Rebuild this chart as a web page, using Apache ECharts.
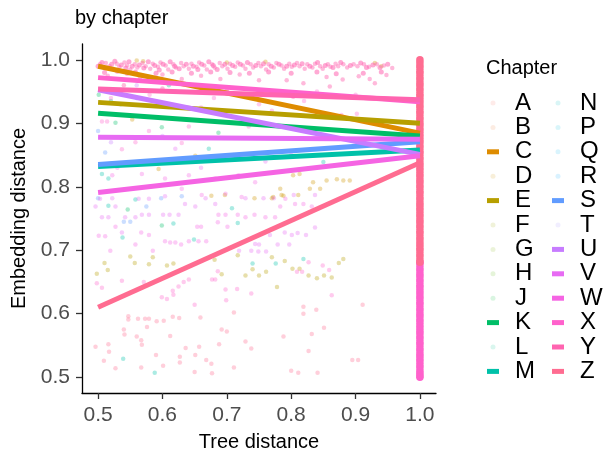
<!DOCTYPE html>
<html>
<head>
<meta charset="utf-8">
<script src="https://cdn.jsdelivr.net/npm/echarts@6/dist/echarts.min.js"></script>
<style>html,body{margin:0;padding:0;background:#fff}#c{width:614px;height:457px}</style>
</head>
<body>
<div id="c"></div>
<script>
// ---------- data ----------
const chapters = ['A','B','C','D','E','F','G','H','J','K','L','M','N','P','Q','R','S','T','U','V','W','X','Y','Z'];
const chapterColors = ['#F8766D','#EC823C','#DE8C00','#CD9600','#B79F00','#9DA700','#7CAE00','#4FB400','#00BA38','#00BE67','#00C08B','#00C1A9','#00BFC4','#00BBDB','#00B4F0','#00A9FF','#619CFF','#A18AFF','#C77CFF','#E76BF3','#F564E3','#FF61CC','#FF64B0','#FF6C91'];
const xTicks = [0.5, 0.6, 0.7, 0.8, 0.9, 1.0];
const yTicks = [0.5, 0.6, 0.7, 0.8, 0.9, 1.0];

// fitted line per chapter: value at tree distance 0.5 and at 1.0
const lineChapters = ['C','E','K','M','S','U','V','W','X','Y','Z'];
const lineStart = [0.990, 0.933, 0.916, 0.832, 0.835, 0.953, 0.878, 0.791, 0.972, 0.954, 0.610];
const lineEnd   = [0.8845, 0.900, 0.880, 0.858, 0.871, 0.851, 0.875, 0.849, 0.934, 0.937, 0.838];

// observed points (tree distance, embedding distance)
const ptsY = [[0.503,0.993],[0.508,0.988],[0.512,0.995],[0.518,0.990],[0.523,0.986],[0.529,0.994],[0.533,0.989],[0.541,0.996],[0.545,0.991],[0.550,0.985],[0.557,0.993],[0.561,0.988],[0.569,0.995],[0.574,0.990],[0.581,0.986],[0.585,0.994],[0.593,0.989],[0.597,0.996],[0.605,0.991],[0.609,0.985],[0.617,0.993],[0.621,0.988],[0.629,0.995],[0.633,0.990],[0.641,0.986],[0.645,0.994],[0.653,0.989],[0.657,0.996],[0.665,0.991],[0.669,0.985],[0.677,0.993],[0.681,0.988],[0.689,0.995],[0.693,0.990],[0.701,0.986],[0.705,0.994],[0.713,0.989],[0.717,0.996],[0.725,0.991],[0.729,0.986],[0.737,0.993],[0.741,0.988],[0.749,0.995],[0.753,0.990],[0.761,0.985],[0.765,0.993],[0.773,0.988],[0.777,0.995],[0.785,0.991],[0.789,0.986],[0.797,0.994],[0.801,0.989],[0.809,0.995],[0.813,0.990],[0.821,0.986],[0.825,0.993],[0.833,0.988],[0.837,0.994],[0.845,0.990],[0.849,0.986],[0.857,0.993],[0.861,0.989],[0.869,0.994],[0.873,0.990],[0.881,0.993],[0.887,0.988],[0.897,0.993],[0.903,0.990],[0.913,0.993],[0.921,0.989],[0.933,0.993],[0.944,0.991],[0.957,0.987],
 [0.515,0.975],[0.545,0.978],[0.565,0.972],[0.600,0.977],[0.630,0.970],[0.660,0.975],[0.690,0.970],[0.720,0.977],[0.750,0.968],[0.793,0.968],[0.819,0.963],[0.855,0.973],[0.880,0.969],[0.905,0.974],[0.922,0.970],[0.930,0.963],[0.948,0.976],[0.803,0.942],[0.860,0.958],[0.600,0.955],[0.700,0.952],[0.540,0.960]];
const ptsYband = [[0.500,0.990],[0.506,0.996],[0.514,0.987],[0.521,0.993],[0.526,0.998],[0.536,0.992],[0.543,0.987],[0.548,0.997],[0.553,0.990],[0.564,0.992],[0.571,0.987],[0.578,0.997],[0.588,0.991],[0.595,0.984],[0.601,0.993],[0.612,0.997],[0.619,0.990],[0.626,0.986],[0.637,0.993],[0.648,0.990],[0.655,0.985],[0.661,0.993],[0.672,0.997],[0.679,0.991],[0.685,0.985],[0.697,0.993],[0.709,0.991],[0.721,0.993],[0.732,0.996],[0.745,0.991],[0.757,0.994],[0.769,0.990],[0.781,0.993],[0.793,0.990],[0.805,0.992],[0.817,0.994],[0.829,0.990],[0.841,0.996],[0.853,0.991],[0.865,0.988],[0.877,0.996],[0.892,0.991],[0.908,0.995],[0.917,0.988],[0.927,0.992],[0.938,0.988],[0.950,0.993],
 [0.510,0.980],[0.530,0.982],[0.558,0.981],[0.590,0.979],[0.615,0.981],[0.645,0.979],[0.675,0.981],[0.705,0.980],[0.735,0.979],[0.765,0.981],[0.800,0.979],[0.840,0.981],[0.870,0.978],[0.912,0.979],[0.940,0.981]];
const ptsX = [[0.506,0.903],[0.514,0.903],[0.579,0.888],[0.630,0.869],[0.641,0.895],[0.708,0.901],[0.734,0.895],[0.558,0.870],[0.537,0.859],[0.878,0.913],[0.902,0.915],[0.600,0.930],[0.660,0.925],[0.770,0.920],[0.820,0.935],[0.520,0.940],[0.580,0.945],[0.680,0.940],[0.750,0.930],[0.840,0.950],[0.900,0.945],
 [0.498,0.648],[0.506,0.641],[0.537,0.652],[0.571,0.650],[0.599,0.626],[0.607,0.623],[0.616,0.636],[0.617,0.630],[0.625,0.643],[0.633,0.650],[0.641,0.654],[0.650,0.614],[0.677,0.654],[0.682,0.654],[0.698,0.638],[0.699,0.621],[0.716,0.639],[0.738,0.632],[0.863,0.629],[0.817,0.666],[0.809,0.666],[0.849,0.676],[0.859,0.669],[0.827,0.681],[0.686,0.667]];
const ptsW = [[0.522,0.818],[0.568,0.820],[0.604,0.813],[0.641,0.818],[0.682,0.813],[0.718,0.818],[0.744,0.807],[0.630,0.797],[0.661,0.787],[0.698,0.789],[0.723,0.784],
 [0.501,0.723],[0.511,0.722],[0.519,0.699],[0.527,0.737],[0.558,0.709],[0.567,0.728],[0.579,0.724],[0.585,0.699],[0.604,0.714],[0.612,0.712],[0.620,0.712],[0.629,0.709],[0.641,0.714],[0.656,0.714],[0.668,0.714],[0.654,0.737],[0.660,0.737],[0.686,0.744],[0.701,0.737],[0.687,0.756],[0.698,0.756],[0.717,0.756],[0.729,0.752],[0.743,0.756],[0.760,0.752],[0.775,0.752],[0.783,0.769],[0.791,0.781],[0.806,0.773],[0.819,0.773],[0.832,0.769]];
const ptsV = [[0.767,0.724],[0.779,0.709],[0.790,0.728],[0.797,0.709],[0.801,0.724],[0.810,0.727],[0.823,0.724],[0.744,0.710],[0.749,0.698],[0.761,0.698],[0.750,0.709],[0.719,0.699],[0.738,0.699],[0.837,0.736],[0.601,0.756],[0.611,0.756],[0.625,0.756],[0.568,0.756],[0.579,0.756],[0.542,0.752],[0.558,0.752],[0.506,0.752],[0.516,0.752],[0.527,0.769],[0.496,0.769],[0.503,0.781],[0.522,0.782],[0.563,0.781],[0.579,0.781],[0.604,0.785],[0.651,0.769],[0.667,0.782],[0.682,0.773],[0.729,0.782],[0.757,0.782],[0.773,0.782],[0.804,0.787],[0.837,0.787],[0.635,0.773],[0.537,0.728],
 [0.530,0.830],[0.580,0.840],[0.620,0.860],[0.660,0.830],[0.710,0.850],[0.760,0.840],[0.800,0.850]];
const ptsZ = [[0.547,0.596],[0.547,0.591],[0.562,0.592],[0.573,0.592],[0.579,0.592],[0.591,0.588],[0.602,0.589],[0.616,0.595],[0.626,0.593],[0.659,0.594],[0.692,0.575],[0.700,0.572],[0.711,0.602],[0.729,0.556],[0.738,0.545],[0.788,0.564],[0.819,0.611],[0.819,0.600],[0.832,0.568],[0.839,0.606],[0.851,0.578],[0.895,0.527],[0.904,0.527],[0.911,0.614],[0.496,0.548],[0.516,0.552],[0.517,0.540],[0.509,0.526],[0.527,0.514],[0.541,0.567],[0.540,0.575],[0.560,0.564],[0.567,0.558],[0.568,0.551],[0.576,0.579],[0.590,0.535],[0.601,0.518],[0.612,0.565],[0.627,0.532],[0.627,0.523],[0.636,0.546],[0.651,0.535],[0.657,0.548],[0.668,0.527],[0.676,0.521],[0.677,0.506],[0.650,0.508],[0.688,0.552],[0.711,0.515],[0.800,0.510],[0.811,0.507],[0.827,0.541],[0.841,0.507],[0.567,0.515]];
const ptsE = [[0.498,0.663],[0.510,0.680],[0.515,0.669],[0.550,0.690],[0.557,0.680],[0.579,0.678],[0.585,0.689],[0.607,0.676],[0.617,0.679],[0.681,0.685],[0.692,0.662],[0.717,0.692],[0.729,0.660],[0.740,0.670],[0.750,0.660],[0.761,0.666],[0.770,0.689],[0.778,0.642],[0.790,0.683],[0.802,0.671],[0.813,0.671],[0.827,0.660],[0.840,0.656],[0.851,0.660],[0.863,0.657],[0.874,0.680],[0.881,0.686]];
const ptsD = [[0.676,0.786],[0.697,0.787],[0.743,0.782],[0.770,0.782],[0.785,0.787],[0.811,0.787],[0.803,0.818],[0.813,0.820],[0.834,0.807],[0.855,0.810],[0.871,0.812],[0.881,0.810],[0.891,0.810],[0.783,0.797],[0.829,0.797],[0.845,0.797],[0.772,0.784],[0.788,0.786],[0.553,0.906],[0.594,0.828],[0.651,0.849],[0.560,0.999],[0.570,0.998],[0.700,0.996],[0.760,0.997],[0.930,0.995],[0.940,0.990]];
const ptsM = [[0.539,0.529],[0.588,0.507],[0.740,0.679],[0.776,0.679],[0.819,0.686],[0.708,0.766],[0.717,0.743],[0.649,0.717],[0.538,0.720],[0.617,0.742],[0.516,0.770],[0.558,0.780],[0.672,0.860],[0.506,0.820],[0.516,0.813],[0.850,0.839],[0.560,0.940],[0.620,0.950]];
const ptsK = [[0.599,0.739],[0.546,0.764],[0.501,0.945],[0.527,0.901],[0.599,0.894],[0.687,0.885],[0.535,0.930],[0.720,0.945]];
const ptsL = [[0.520,0.935],[0.610,0.960]];
const ptsS = [[0.540,0.745],[0.550,0.745],[0.500,0.782],[0.575,0.769],[0.598,0.782],[0.630,0.785],[0.511,0.854],[0.500,0.888]];
const ptsU = [[0.520,0.870],[0.600,0.880],[0.560,0.960]];
// dense observations at tree distance 1.0 (embedding distance values)
const zAtOne = [1.000,0.996,0.991,0.987,0.982,0.978,0.973,0.969,0.964,0.960,0.955,0.951,0.946,0.942,0.937,0.933,0.928,0.924,0.919,0.915,0.910,0.906,0.901,0.897,0.892,0.888,0.883,0.879,0.874,0.870,0.865,0.861,0.856,0.852,0.847,0.843,0.838,0.834,0.829,0.825,0.820,0.816,0.811,0.807,0.802,0.798,0.793,0.789,0.784,0.780,0.775,0.771,0.766,0.762,0.757,0.753,0.748,0.744,0.739,0.735,0.730,0.726,0.721,0.717,0.712,0.708,0.703,0.699,0.694,0.690,0.685,0.681];
const xAtOne = [0.681,0.677,0.672,0.668,0.663,0.659,0.654,0.650,0.645,0.641,0.636,0.632,0.627,0.623,0.618,0.614,0.609,0.605,0.600,0.596,0.591,0.587,0.582,0.578,0.573,0.569,0.564,0.560,0.555,0.551,0.546,0.542,0.537,0.533,0.528,0.524,0.519,0.515,0.510,0.506,0.502,0.500];

const pointsByChapter = {D: ptsD, E: ptsE, K: ptsK, L: ptsL, M: ptsM, S: ptsS, U: ptsU, V: ptsV, W: ptsW, X: ptsX, Y: ptsY, Z: ptsZ};

// ---------- chart ----------
const FONT = "'Liberation Sans', Arial, Helvetica, sans-serif";
const colorOf = {};
chapters.forEach((c, i) => colorOf[c] = chapterColors[i]);

const series = [];
chapters.forEach(c => {
  series.push({
    name: c, type: 'scatter', data: pointsByChapter[c] || [],
    symbolSize: 4.5, silent: true,
    itemStyle: {color: colorOf[c], opacity: c === 'Y' ? 0.45 : 0.33}
  });
});
series.push({
  name: 'Y', type: 'scatter', data: ptsYband,
  symbolSize: 5, silent: true, itemStyle: {color: colorOf['Y'], opacity: 0.55}
});
lineChapters.forEach((c, i) => {
  series.push({
    name: c, type: 'line', data: [[0.5, lineStart[i]], [1.0, lineEnd[i]]],
    showSymbol: false, symbol: 'none', silent: true,
    lineStyle: {color: colorOf[c], width: 5, cap: 'butt'},
    itemStyle: {color: colorOf[c]}
  });
});
series.push({
  name: 'X', type: 'scatter', data: xAtOne.map(v => [1.0, v]),
  symbolSize: 7.5, silent: true, itemStyle: {color: colorOf['X'], opacity: 1}
});
series.push({
  name: 'Z', type: 'scatter', data: zAtOne.map(v => [1.0, v]),
  symbolSize: 7.5, silent: true, itemStyle: {color: colorOf['Z'], opacity: 1}
});

function legendItems(list) {
  return list.map(c => lineChapters.includes(c)
    ? {name: c, icon: 'rect', itemStyle: {color: colorOf[c], opacity: 1}}
    : {name: c, icon: 'circle', itemStyle: {color: colorOf[c], opacity: 0.15}});
}
const legendBase = {
  orient: 'vertical', top: 91, itemWidth: 12, itemHeight: 5, itemGap: 0.4, padding: 0,
  selectedMode: false,
  formatter: '{t|{name}}',
  textStyle: {fontFamily: FONT, fontSize: 24, color: '#000', lineHeight: 24,
    rich: {t: {fontFamily: FONT, fontSize: 24, color: '#000', lineHeight: 24, padding: [0, 0, 0, 11]}}}
};

const chart = echarts.init(document.getElementById('c'), null, {renderer: 'canvas'});
chart.setOption({
  animation: false,
  backgroundColor: '#fff',
  title: [
    {text: 'by chapter', left: 75, top: 8, padding: 0,
      textStyle: {fontFamily: FONT, fontSize: 20, fontWeight: 'normal', color: '#000'}},
    {text: 'Chapter', left: 486, top: 58, padding: 0,
      textStyle: {fontFamily: FONT, fontSize: 20, fontWeight: 'normal', color: '#000'}}
  ],
  legend: [
    Object.assign({}, legendBase, {left: 487, data: legendItems(chapters.slice(0, 12))}),
    Object.assign({}, legendBase, {left: 552, data: legendItems(chapters.slice(12))})
  ],
  grid: {left: 82, right: 178, top: 44, bottom: 59, containLabel: false},
  xAxis: {
    type: 'value', min: 0.475, max: 1.025,
    name: 'Tree distance', nameLocation: 'middle', nameGap: 39,
    nameTextStyle: {fontFamily: FONT, fontSize: 20, color: '#000'},
    axisLine: {show: true, onZero: false, lineStyle: {color: '#000', width: 1.3}},
    axisTick: {show: true, customValues: xTicks, length: 6, lineStyle: {color: '#333', width: 1.3}},
    axisLabel: {customValues: xTicks, formatter: v => v.toFixed(1), margin: 12,
      fontFamily: FONT, fontSize: 21, color: '#4D4D4D'},
    splitLine: {show: false}
  },
  yAxis: {
    type: 'value', min: 0.475, max: 1.025,
    name: 'Embedding distance', nameLocation: 'middle', nameGap: 53,
    nameTextStyle: {fontFamily: FONT, fontSize: 20, color: '#000'},
    axisLine: {show: true, onZero: false, lineStyle: {color: '#000', width: 1.3}},
    axisTick: {show: true, customValues: yTicks, length: 6, lineStyle: {color: '#333', width: 1.3}},
    axisLabel: {customValues: yTicks, formatter: v => v.toFixed(1), margin: 12,
      fontFamily: FONT, fontSize: 21, color: '#4D4D4D'},
    splitLine: {show: false}
  },
  series: series
});
</script>
</body>
</html>
